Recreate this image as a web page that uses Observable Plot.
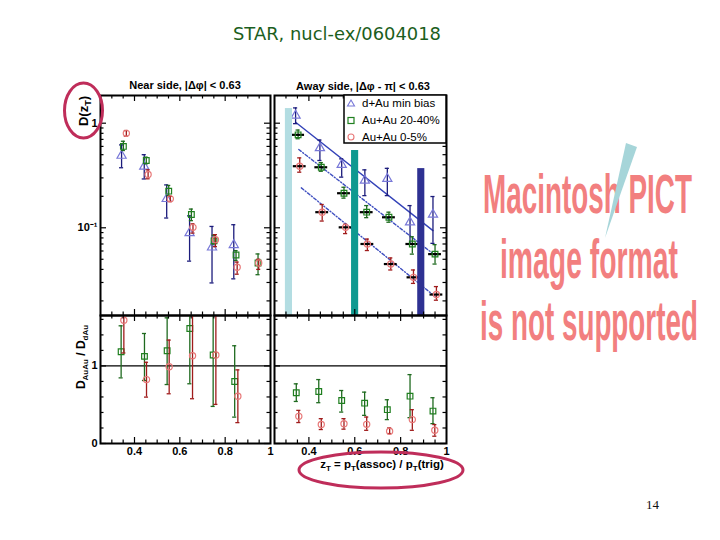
<!DOCTYPE html>
<html><head><meta charset="utf-8">
<script src="https://cdn.jsdelivr.net/npm/d3@7"></script>
<script src="https://cdn.jsdelivr.net/npm/@observablehq/plot@0.6"></script>
<style>
body{margin:0;background:#fff;}
#page{position:relative;width:720px;height:540px;overflow:hidden;background:#fff;}
.pnl{position:absolute;}
#deco{position:absolute;left:0;top:0;pointer-events:none;}
</style></head><body><div id="page"></div>
<script>
// ---------- data ----------
// Near side D(zT)
const nearDAuX  = [0.343,0.443,0.542,0.643,0.742,0.838];
const nearDAuY  = [0.49,0.385,0.189,0.089,0.065,0.0686];
const nearDAuLo = [0.375,0.293,0.124,0.048,0.0297,0.0325];
const nearDAuHi = [0.62,0.50,0.257,0.13,0.103,0.107];
const nearMidX  = [0.351,0.452,0.551,0.651,0.751,0.848,0.945];
const nearMidY  = [0.60,0.44,0.224,0.134,0.075,0.055,0.046];
const nearMidLo = [0.548,0.409,0.203,0.117,0.070,0.0487,0.0356];
const nearMidHi = [0.672,0.473,0.254,0.151,0.085,0.0605,0.0562];
const nearCenX  = [0.364,0.46,0.558,0.658,0.757,0.853,0.948];
const nearCenY  = [0.80,0.323,0.189,0.101,0.077,0.042,0.046];
const nearCenLo = [0.751,0.294,0.178,0.089,0.066,0.036,0.040];
const nearCenHi = [0.851,0.358,0.2,0.109,0.086,0.047,0.050];
// Away side D(zT)
const awayDAuX  = [0.342,0.448,0.543,0.644,0.742,0.841,0.941];
const awayDAuY  = [1.185,0.58,0.40,0.283,0.294,0.113,0.134];
const awayDAuLo = [0.99,0.44,0.305,0.203,0.203,0.07,0.071];
const awayDAuHi = [1.40,0.69,0.456,0.358,0.37,0.163,0.199];
const awayMidX  = [0.353,0.454,0.553,0.652,0.749,0.851,0.95];
const awayMidY  = [0.774,0.379,0.214,0.141,0.126,0.070,0.056];
const awayMidLo = [0.71,0.347,0.192,0.125,0.113,0.056,0.045];
const awayMidHi = [0.86,0.42,0.244,0.163,0.141,0.082,0.069];
const awayCenX  = [0.36,0.458,0.56,0.655,0.757,0.856,0.956];
const awayCenY  = [0.388,0.141,0.101,0.070,0.045,0.0336,0.023];
const awayCenLo = [0.34,0.116,0.088,0.0606,0.0395,0.0294,0.0203];
const awayCenHi = [0.466,0.167,0.108,0.078,0.0515,0.0395,0.0274];
// exponential fits on the away side (end points)
const fitDAuX = [0.342,0.941], fitDAuY = [1.02,0.094];
const fitMidX = [0.356,0.953], fitMidY = [0.56,0.054];
const fitCenX = [0.367,0.962], fitCenY = [0.241,0.021];
// highlight bands drawn over the away-side panel
const bandCenters = [0.313,0.6015,0.89];
const bandTops    = [1.38,0.548,0.368];
const bandColors  = ["#b3dde2","#0f9990","#2e3192"];
// Ratio D_AuAu / D_dAu, near side
const rNearMidX  = [0.341,0.444,0.544,0.644,0.747,0.842];
const rNearMidY  = [1.183,1.123,1.196,1.482,1.141,0.80];
const rNearMidLo = [0.846,0.812,0.76,0.77,0.478,0.34];
const rNearMidHi = [1.517,1.418,1.62,1.9,1.9,1.26];
const rNearCenX  = [0.353,0.453,0.553,0.656,0.759,0.856];
const rNearCenY  = [1.59,0.824,0.99,1.132,1.141,0.61];
const rNearCenLo = [1.167,0.598,0.641,0.577,0.504,0.269];
const rNearCenHi = [1.9,1.047,1.333,1.9,1.9,0.949];
// Ratio, away side
const rAwayMidX  = [0.345,0.443,0.543,0.643,0.742,0.841,0.941];
const rAwayMidY  = [0.654,0.671,0.555,0.52,0.436,0.61,0.418];
const rAwayMidLo = [0.542,0.526,0.405,0.363,0.308,0.333,0.256];
const rAwayMidHi = [0.769,0.824,0.683,0.662,0.564,0.888,0.59];
const rAwayCenX  = [0.356,0.454,0.553,0.652,0.752,0.851,0.949];
const rAwayCenY  = [0.35,0.244,0.256,0.247,0.158,0.308,0.171];
const rAwayCenLo = [0.27,0.18,0.185,0.17,0.128,0.17,0.094];
const rAwayCenHi = [0.427,0.32,0.32,0.341,0.2,0.436,0.244];
// axes
const xDomain = [0.25,1];
const topYDomain = [0.0145,1.84];
const ratioYDomain = [0,1.65];
const xMajorTicks = [0.4,0.6,0.8];
const xMinorTicks = [0.3,0.35,0.45,0.5,0.55,0.65,0.7,0.75,0.85,0.9,0.95];
const xTickLabels = [0.4,0.6,0.8,1];
const logMajorTicks = [1,0.1];
const logMinorTicks = [0.02,0.03,0.04,0.05,0.06,0.07,0.08,0.09,0.2,0.3,0.4,0.5,0.6,0.7,0.8,0.9];
const ratioMajorTicks = [0,1];
const ratioMinorTicks = [0.2,0.4,0.6,0.8,1.2,1.4,1.6];
const legendLabels = ["d+Au min bias","Au+Au 20-40%","Au+Au 0-5%"];
const pictLines = ["Macintosh PICT","image format","is not supported"];

// ---------- styles ----------
const C = {
  dAu:{mark:"#7878d8", err:"#1c1c7c", symbol:"triangle", r:3.4},
  mid:{mark:"#1f7f1f", err:"#1f6a1f", symbol:"square", r:3.2},
  cen:{mark:"#e87878", err:"#a01c1c", symbol:"circle", r:3.1}
};
const rows = (xs,ys,lo,hi) => xs.map((x,i)=>({x, y:ys[i], lo:lo[i], hi:hi[i]}));
const pts = (xs,ys) => xs.map((x,i)=>({x,y:ys[i]}));

function series(data, s, withSys){
  const cap = 0.009;
  const m = [
    Plot.ruleX(data,{x:"x", y1:"lo", y2:"hi", stroke:s.err, strokeWidth:1.3, clip:true}),
    Plot.ruleY(data,{y:"lo", x1:d=>d.x-cap, x2:d=>d.x+cap, stroke:s.err, strokeWidth:1.3, clip:true}),
    Plot.ruleY(data,{y:"hi", x1:d=>d.x-cap, x2:d=>d.x+cap, stroke:s.err, strokeWidth:1.3, clip:true})
  ];
  if (withSys) m.push(Plot.ruleY(data,{y:"y", x1:d=>d.x-0.028, x2:d=>d.x+0.028, stroke:"#000", strokeWidth:2.2}));
  m.push(Plot.dot(data,{x:"x", y:"y", symbol:s.symbol, r:s.r, stroke:s.mark, fill:"none", strokeWidth:1.2, clip:true}));
  return m;
}
function ticks(innerW, innerH, yMaj, yMin){
  const L=6, l=3.5;
  return [
    Plot.tickX(xMajorTicks,{x:d=>d, insetTop:innerH-L, stroke:"#000", strokeWidth:1.2}),
    Plot.tickX(xMajorTicks,{x:d=>d, insetBottom:innerH-L, stroke:"#000", strokeWidth:1.2}),
    Plot.tickX(xMinorTicks,{x:d=>d, insetTop:innerH-l, stroke:"#000", strokeWidth:1.2}),
    Plot.tickX(xMinorTicks,{x:d=>d, insetBottom:innerH-l, stroke:"#000", strokeWidth:1.2}),
    Plot.tickY(yMaj,{y:d=>d, insetRight:innerW-L, stroke:"#000", strokeWidth:1.2}),
    Plot.tickY(yMaj,{y:d=>d, insetLeft:innerW-L, stroke:"#000", strokeWidth:1.2}),
    Plot.tickY(yMin,{y:d=>d, insetRight:innerW-l, stroke:"#000", strokeWidth:1.2}),
    Plot.tickY(yMin,{y:d=>d, insetLeft:innerW-l, stroke:"#000", strokeWidth:1.2}),
    Plot.frame({stroke:"#000", strokeWidth:2})
  ];
}
const baseStyle = {background:"transparent", overflow:"visible", fontFamily:"Liberation Sans, Arial, sans-serif", fontSize:"11px", fontWeight:"bold", color:"#000"};
const page = document.getElementById("page");
function place(svg, left, top){
  const d = document.createElement("div");
  d.className="pnl"; d.style.left=left+"px"; d.style.top=top+"px";
  d.appendChild(svg); page.appendChild(d);
}

// ---------- top-left: near side ----------
place(Plot.plot({
  width:225, height:250, marginLeft:50, marginRight:5, marginTop:25, marginBottom:5,
  style:baseStyle,
  x:{domain:xDomain, axis:null},
  y:{type:"log", domain:topYDomain, ticks:logMajorTicks, tickSize:0, tickPadding:3, label:null,
     tickFormat:d=> d===1 ? "1" : "10\u207B\u00B9"},
  marks:[
    ...series(rows(nearDAuX,nearDAuY,nearDAuLo,nearDAuHi), C.dAu, false),
    ...series(rows(nearMidX,nearMidY,nearMidLo,nearMidHi), C.mid, false),
    ...series(rows(nearCenX,nearCenY,nearCenLo,nearCenHi), C.cen, false),
    ...ticks(170,220,logMajorTicks,logMinorTicks)
  ]
}), 50, 70);

// ---------- top-right: away side ----------
const bandMarks = bandCenters.map((c,i)=>Plot.rect([{c, top:bandTops[i]}],
  {x1:d=>d.c-0.0155, x2:d=>d.c+0.0155, y1:()=>topYDomain[0], y2:"top", fill:bandColors[i]}));
place(Plot.plot({
  width:187, height:250, marginLeft:5, marginRight:10, marginTop:25, marginBottom:5,
  style:baseStyle,
  x:{domain:xDomain, axis:null},
  y:{type:"log", domain:topYDomain, axis:null},
  marks:[
    Plot.line(pts(fitDAuX,fitDAuY),{x:"x",y:"y",stroke:"#3342b8",strokeWidth:1.4}),
    Plot.line(pts(fitMidX,fitMidY),{x:"x",y:"y",stroke:"#3f4fc0",strokeWidth:1.4,strokeDasharray:"3,2,1,2"}),
    Plot.line(pts(fitCenX,fitCenY),{x:"x",y:"y",stroke:"#3f4fc0",strokeWidth:1.4,strokeDasharray:"3,2,1,2"}),
    ...series(rows(awayDAuX,awayDAuY,awayDAuLo,awayDAuHi), C.dAu, false),
    ...series(rows(awayMidX,awayMidY,awayMidLo,awayMidHi), C.mid, true),
    ...series(rows(awayCenX,awayCenY,awayCenLo,awayCenHi), C.cen, true),
    ...bandMarks,
    ...ticks(172,220,logMajorTicks,logMinorTicks)
  ]
}), 269, 70);

// ---------- bottom-left: ratio near ----------
place(Plot.plot({
  width:225, height:163, marginLeft:50, marginRight:5, marginTop:5, marginBottom:30,
  style:baseStyle,
  x:{domain:xDomain, ticks:xTickLabels, tickSize:0, tickPadding:4, label:null, tickFormat:d=> d===1?"1":d3.format(".1f")(d)},
  y:{domain:ratioYDomain, ticks:ratioMajorTicks, tickSize:0, tickPadding:3, label:null, tickFormat:d=>String(d)},
  marks:[
    Plot.ruleY([1],{stroke:"#000", strokeWidth:1.3}),
    ...series(rows(rNearMidX,rNearMidY,rNearMidLo,rNearMidHi), C.mid, false),
    ...series(rows(rNearCenX,rNearCenY,rNearCenLo,rNearCenHi), C.cen, false),
    ...ticks(170,128,ratioMajorTicks,ratioMinorTicks)
  ]
}), 50, 310);

// ---------- bottom-right: ratio away ----------
place(Plot.plot({
  width:187, height:163, marginLeft:5, marginRight:10, marginTop:5, marginBottom:30,
  style:baseStyle,
  x:{domain:xDomain, ticks:xTickLabels, tickSize:0, tickPadding:4, label:null, tickFormat:d=> d===1?"1":d3.format(".1f")(d)},
  y:{domain:ratioYDomain, axis:null},
  marks:[
    Plot.ruleY([1],{stroke:"#000", strokeWidth:1.3}),
    ...series(rows(rAwayMidX,rAwayMidY,rAwayMidLo,rAwayMidHi), C.mid, false),
    ...series(rows(rAwayCenX,rAwayCenY,rAwayCenLo,rAwayCenHi), C.cen, false),
    ...ticks(172,128,ratioMajorTicks,ratioMinorTicks)
  ]
}), 269, 310);

// ---------- text, legend and slide decorations ----------
const NS="http://www.w3.org/2000/svg";
const deco = document.createElementNS(NS,"svg");
deco.setAttribute("id","deco"); deco.setAttribute("width",720); deco.setAttribute("height",540);
deco.innerHTML = `
<text x="233" y="40" font-family="DejaVu Sans, Verdana, sans-serif" font-size="17" fill="#1b5e20" textLength="208" lengthAdjust="spacingAndGlyphs">STAR, nucl-ex/0604018</text>
<g font-family="Liberation Sans, Arial, sans-serif" font-weight="bold" font-size="11" fill="#000" text-anchor="middle">
  <text x="185" y="89">Near side, |Δφ| &lt; 0.63</text>
  <text x="363" y="90">Away side, |Δφ - π| &lt; 0.63</text>
</g>
<g font-family="Liberation Sans, Arial, sans-serif" font-weight="bold" fill="#000" text-anchor="middle">
  <text transform="translate(88,111) rotate(-90)" font-size="13">D(z<tspan font-size="9" dy="3">T</tspan><tspan dy="-3">)</tspan></text>
  <text transform="translate(85,357) rotate(-90)" font-size="12">D<tspan font-size="8" dy="3">AuAu</tspan><tspan dy="-3"> / D</tspan><tspan font-size="8" dy="3">dAu</tspan></text>
  <text x="382" y="468" font-size="11.5">z<tspan font-size="8" dy="3">T</tspan><tspan dy="-3"> = p</tspan><tspan font-size="8" dy="3">T</tspan><tspan dy="-3">(assoc) / p</tspan><tspan font-size="8" dy="3">T</tspan><tspan dy="-3">(trig)</tspan></text>
</g>
<rect x="344" y="95" width="102" height="48" fill="#fff" stroke="#000" stroke-width="1.5"/>
<path d="M351,100 L354.5,106 L347.5,106 Z" fill="none" stroke="#7878d8" stroke-width="1.1"/>
<rect x="348" y="117.5" width="6" height="6" fill="none" stroke="#1f7f1f" stroke-width="1.2"/>
<circle cx="351" cy="137" r="3" fill="none" stroke="#e87878" stroke-width="1.1"/>
<g font-family="Liberation Sans, Arial, sans-serif" font-size="11.5" fill="#000">
  <text x="362" y="107">${legendLabels[0]}</text>
  <text x="362" y="124">${legendLabels[1]}</text>
  <text x="362" y="141">${legendLabels[2]}</text>
</g>
<g id="pict" font-family="Liberation Sans Narrow, Arial Narrow, Liberation Sans, sans-serif" font-weight="bold" font-size="56" fill="#f27f7f">
  <text data-x="483" data-y="213" data-w="209">${pictLines[0]}</text>
  <text data-x="500" data-y="278" data-w="178">${pictLines[1]}</text>
  <text data-x="480" data-y="340" data-w="218">${pictLines[2]}</text>
</g>
<polygon points="626,143 637,147 605,238" fill="#a6d5d9"/>
<ellipse cx="83.5" cy="110.5" rx="19" ry="27.5" fill="none" stroke="#bf2d5a" stroke-width="3"/>
<ellipse cx="381" cy="470" rx="82" ry="18" fill="none" stroke="#bf2d5a" stroke-width="3"/>
<text x="646" y="509" font-family="Liberation Serif, Times New Roman, serif" font-size="13" fill="#111">14</text>
`;
page.appendChild(deco);
// condense the placeholder text horizontally to its measured width
deco.querySelectorAll("#pict text").forEach(t=>{
  const nat = t.getComputedTextLength();
  const s = (+t.dataset.w)/nat;
  t.setAttribute("transform",`translate(${t.dataset.x},${t.dataset.y}) scale(${s},1)`);
});
</script></body></html>
